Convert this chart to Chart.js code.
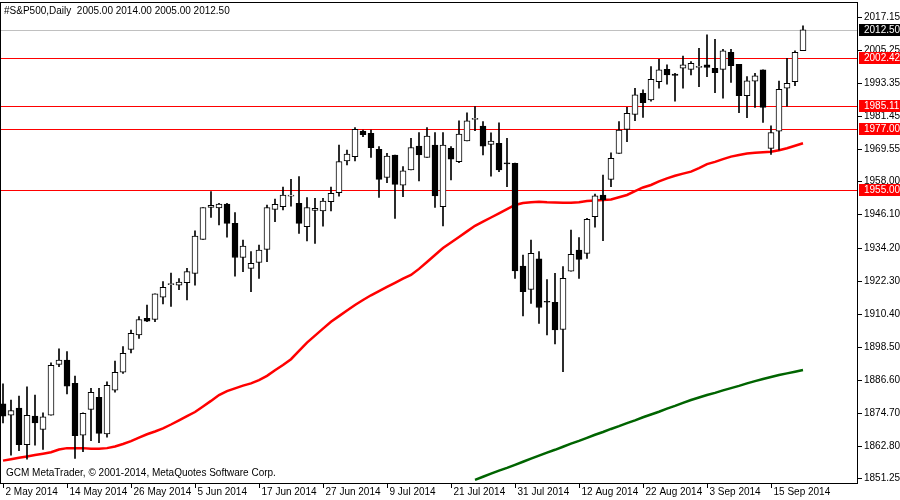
<!DOCTYPE html>
<html>
<head>
<meta charset="utf-8">
<script src="https://cdn.jsdelivr.net/npm/chart.js@4/dist/chart.umd.min.js"></script>
<style>
  html, body { margin: 0; padding: 0; background: #fff; }
  #wrap { width: 900px; height: 500px; }
</style>
</head>
<body>
<div id="wrap"><canvas id="c" width="900" height="500"></canvas></div>
<script>
// daily candles, S&P500, 2 May - 19 Sep 2014
const opens = [1877.9,1873.9,1876.4,1863.2,1873.5,1868.7,1873.9,1892.1,1893.7,1885.3,
  1866.7,1875.9,1880.3,1867.1,1882.9,1889.3,1897.5,1902.7,1908.7,1908.3,
  1916.3,1920.8,1920.6,1921.5,1924.9,1937.1,1948.6,1948.4,1949.8,1942.9,
  1930.6,1926.7,1928.8,1933.5,1947.9,1948.9,1952.7,1950.1,1941.7,1947.5,
  1947.4,1950.7,1953.9,1965.4,1966.9,1976.1,1975.3,1969.5,1959.4,1967.5,
  1956.6,1962.1,1970.7,1966.6,1971.1,1948.9,1969.9,1965.1,1972.6,1980.3,
  1977.9,1971.3,1971.7,1964.5,1964.5,1927.5,1919.1,1930.1,1914.7,1914.5,
  1904.7,1925.7,1933.3,1932.1,1945.3,1953.1,1958.7,1968.1,1976.7,1982.1,
  1989.7,1987.3,1993.9,1998.3,1996.6,1998.7,1998.3,1999.0,1999.9,1998.7,
  1998.3,2004.4,2000.1,1988.8,1994.1,1998.1,1969.9,1976.1,1991.5,1993.9,2005.0]
const highs = [1885.1,1879.3,1880.7,1884.1,1881.1,1874.7,1892.7,1897.7,1896.7,1887.9,
  1874.7,1883.5,1883.5,1885.9,1893.3,1898.5,1904.5,1909.3,1913.5,1917.5,
  1921.9,1925.0,1923.0,1926.7,1940.2,1948.6,1954.3,1950.1,1950.1,1946.8,
  1936.9,1932.7,1935.1,1949.5,1951.6,1955.9,1958.7,1959.7,1952.2,1951.9,
  1951.9,1955.9,1971.1,1969.3,1977.4,1976.5,1976.5,1970.5,1968.1,1967.5,
  1963.3,1973.5,1975.6,1977.4,1975.6,1975.6,1970.5,1979.8,1982.7,1984.9,
  1979.5,1975.5,1979.1,1973.5,1964.6,1931.5,1936.9,1932.7,1922.7,1924.9,
  1927.3,1940.5,1937.8,1944.7,1953.4,1960.3,1968.3,1979.5,1984.6,1991.5,
  1990.9,1999.3,2001.9,1999.9,1996.9,2003.1,2001.1,2005.9,2010.7,2009.1,
  2005.5,2005.5,2000.1,1995.7,1996.9,1998.1,1978.0,1994.1,2002.3,2005.0,2014.0]
const lows = [1871.1,1859.5,1861.1,1858.0,1863.1,1861.5,1873.9,1891.3,1881.5,1858.3,
  1860.7,1864.7,1864.0,1865.9,1882.1,1888.9,1896.3,1901.5,1907.5,1907.5,
  1913.9,1913.0,1919.0,1915.3,1920.6,1937.1,1945.0,1942.3,1937.9,1923.9,
  1925.5,1918.3,1923.1,1929.1,1943.5,1947.7,1949.1,1939.3,1936.6,1935.7,
  1941.9,1947.4,1952.7,1963.9,1965.4,1974.1,1966.6,1952.2,1957.5,1944.7,
  1952.5,1962.1,1958.2,1966.6,1948.6,1942.0,1958.5,1964.7,1972.6,1976.2,
  1967.5,1959.9,1961.5,1956.1,1923.1,1909.6,1914.1,1906.9,1902.7,1899.5,
  1889.5,1925.7,1923.1,1930.3,1941.5,1936.7,1956.1,1968.1,1972.3,1979.8,
  1981.0,1986.9,1991.5,1993.0,1986.9,1991.5,1996.3,1992.1,1995.7,1989.9,
  1987.9,1993.6,1982.7,1980.9,1984.6,1979.2,1967.7,1969.3,1985.1,1992.4,2005.0]
const closes = [1873.5,1875.5,1863.2,1873.8,1871.1,1873.3,1891.8,1893.7,1884.3,1866.5,
  1874.5,1882.1,1867.3,1884.6,1889.3,1896.1,1903.3,1908.3,1907.7,1917.5,
  1919.9,1921.2,1921.8,1925.5,1938.3,1948.6,1949.4,1949.8,1942.9,1930.6,
  1934.7,1928.5,1933.3,1948.6,1949.7,1953.1,1952.8,1942.9,1948.6,1948.3,
  1950.9,1953.7,1965.1,1967.8,1976.7,1974.8,1970.1,1958.7,1967.1,1956.9,
  1961.8,1970.2,1967.5,1974.3,1952.8,1971.1,1966.0,1975.0,1979.8,1980.5,
  1970.7,1972.5,1962.1,1964.3,1925.8,1918.3,1932.1,1912.6,1914.5,1904.5,
  1923.1,1931.7,1929.9,1944.3,1952.8,1951.3,1966.3,1976.5,1982.5,1989.1,
  1986.3,1994.7,1998.1,1996.3,1996.1,1999.9,2000.5,1999.1,1999.0,1997.1,
  2005.0,1999.6,1988.8,1994.2,1996.0,1984.6,1975.6,1991.1,1993.3,2004.4,2012.5]

// moving averages
const maRed = [1857.5,1858,1858.5,1859,1859.5,1860,1860.5,1861.5,1862,1862,
  1862,1861.8,1861.8,1862,1862.6,1863.5,1864.5,1865.8,1867,1868,
  1869.1,1870.5,1872,1873.5,1875,1877,1879,1881.1,1882.5,1883.5,
  1884.5,1885.3,1886.5,1888,1890,1891.9,1894,1897,1900,1902.5,
  1905,1907.5,1909.5,1911.5,1913.5,1915.3,1917,1918.5,1920,1921.5,
  1923,1924.3,1926.5,1929,1931.5,1934,1936,1938,1940,1942,
  1943.5,1945,1946.5,1948,1949.5,1950.2,1950.5,1950.7,1950.5,1950.4,
  1950.3,1950.3,1950.5,1950.9,1951.1,1951.3,1951.5,1952.3,1953.1,1954.5,
  1955.8,1956.7,1958,1959.1,1960,1960.8,1961.5,1962.8,1964.2,1965,
  1966,1966.9,1967.5,1968,1968.3,1968.5,1968.7,1969.2,1969.9,1970.8,1971.7]
const maGreen = [null,null,null,null,null,null,null,null,null,null,
  null,null,null,null,null,null,null,null,null,null,
  null,null,null,null,null,null,null,null,null,null,
  null,null,null,null,null,null,null,null,null,null,
  null,null,null,null,null,null,null,null,null,null,
  null,null,null,null,null,null,null,null,null,1850.6,
  1851.7,1852.8,1853.9,1854.9,1856.0,1857.1,1858.2,1859.3,1860.4,1861.4,
  1862.5,1863.6,1864.6,1865.7,1866.8,1867.8,1868.9,1869.9,1871.0,1872.0,
  1873.1,1874.1,1875.1,1876.2,1877.2,1878.3,1879.3,1880.2,1881.1,1881.9,
  1882.8,1883.6,1884.4,1885.3,1886.1,1886.9,1887.6,1888.3,1888.9,1889.5,1890.1]

const levels = [2002.42, 1985.11, 1977.00, 1955.00]
const lastPrice = 2012.50
const yTicks = [2017.15, 2005.25, 1993.35, 1981.45, 1969.55, 1958.00, 1946.10,
  1934.20, 1922.30, 1910.40, 1898.50, 1886.60, 1874.70, 1862.80, 1851.25]
const xTickIdx = [0, 8, 16, 24, 32, 40, 48, 56, 64, 72, 80, 88, 96]
const xTickLabels = ["2 May 2014", "14 May 2014", "26 May 2014", "5 Jun 2014", "17 Jun 2014",
  "27 Jun 2014", "9 Jul 2014", "21 Jul 2014", "31 Jul 2014", "12 Aug 2014",
  "22 Aug 2014", "3 Sep 2014", "15 Sep 2014"]

const FONT = '10px "Liberation Sans"'

const wicks = opens.map((o, i) => ({ x: i, y: [lows[i], highs[i]] }))
const bodies = opens.map((o, i) => {
  let a = Math.min(o, closes[i]), b = Math.max(o, closes[i])
  return { x: i, y: [a, b] }
})
const bodyFill = opens.map((o, i) => closes[i] >= o ? "#ffffff" : "#000000")

const mtPlugin = {
  id: "mt",
  beforeDatasetsDraw(chart) {
    const { ctx, chartArea: a, scales: { y } } = chart
    ctx.save()
    ctx.lineWidth = 1
    let py = Math.round(y.getPixelForValue(lastPrice)) + 0.5
    ctx.strokeStyle = "#c0c0c0"
    ctx.beginPath(); ctx.moveTo(a.left, py); ctx.lineTo(a.right, py); ctx.stroke()
    ctx.strokeStyle = "#ff0000"
    levels.forEach((v) => {
      let p = Math.round(y.getPixelForValue(v)) + 0.5
      ctx.beginPath(); ctx.moveTo(a.left, p); ctx.lineTo(a.right, p); ctx.stroke()
    })
    ctx.restore()
  },
  afterDraw(chart) {
    const { ctx, chartArea: a, scales: { x, y } } = chart
    ctx.save()
    ctx.strokeStyle = "#000"
    ctx.lineWidth = 1
    ctx.strokeRect(a.left + 0.5, a.top + 0.5, a.right - a.left - 1, a.bottom - a.top)
    ctx.font = FONT
    ctx.fillStyle = "#000"
    ctx.textBaseline = "middle"
    // price axis
    yTicks.forEach((v) => {
      let p = Math.round(y.getPixelForValue(v)) + 0.5
      ctx.beginPath(); ctx.moveTo(a.right, p); ctx.lineTo(a.right + 4, p); ctx.stroke()
      ctx.fillText(v.toFixed(2), a.right + 6, p)
    })
    const tag = (v, bg) => {
      let p = Math.round(y.getPixelForValue(v))
      ctx.fillStyle = bg
      ctx.fillRect(a.right + 1, p - 6, 41, 12)
      ctx.fillStyle = "#fff"
      ctx.fillText(v.toFixed(2), a.right + 6, p)
    }
    levels.forEach((v) => tag(v, "#ff0000"))
    tag(lastPrice, "#000000")
    // time axis
    ctx.fillStyle = "#000"
    ctx.textBaseline = "top"
    xTickIdx.forEach((idx, k) => {
      let p = Math.round(x.getPixelForValue(idx)) + 0.5
      ctx.beginPath(); ctx.moveTo(p, a.bottom); ctx.lineTo(p, a.bottom + 5); ctx.stroke()
      ctx.fillText(xTickLabels[k], p + 2, a.bottom + 4)
    })
    ctx.textBaseline = "middle"
    ctx.fillText("#S&P500,Daily  2005.00 2014.00 2005.00 2012.50", 4, 11)
    ctx.fillText("GCM MetaTrader, \u00a9 2001-2014, MetaQuotes Software Corp.", 6, a.bottom - 10)
    ctx.restore()
  },
}

new Chart(document.getElementById("c"), {
  type: "bar",
  data: {
    datasets: [
      { type: "line", data: maRed.map((v, i) => ({ x: i, y: v })), borderColor: "#ff0000",
        borderWidth: 2.5, pointRadius: 0, tension: 0, order: 3 },
      { type: "line", data: maGreen.map((v, i) => ({ x: i, y: v })), borderColor: "#006400",
        borderWidth: 2.5, pointRadius: 0, tension: 0, order: 3 },
      { data: wicks, backgroundColor: "#000", barThickness: 1, grouped: false, order: 2 },
      { data: bodies, backgroundColor: bodyFill, borderColor: "#000", borderWidth: 1,
        borderSkipped: false, barThickness: 6, minBarLength: 1, grouped: false, order: 1 },
    ],
  },
  options: {
    responsive: false,
    animation: false,
    layout: { padding: { left: 0, top: 2, right: 42, bottom: 17 } },
    scales: {
      x: { type: "linear", display: false, offset: false, min: -0.375, max: 106.875 },
      y: { display: false, min: 1849.45, max: 2022.55 },
    },
    plugins: { legend: { display: false }, tooltip: { enabled: false } },
  },
  plugins: [mtPlugin],
})
</script>
</body>
</html>
